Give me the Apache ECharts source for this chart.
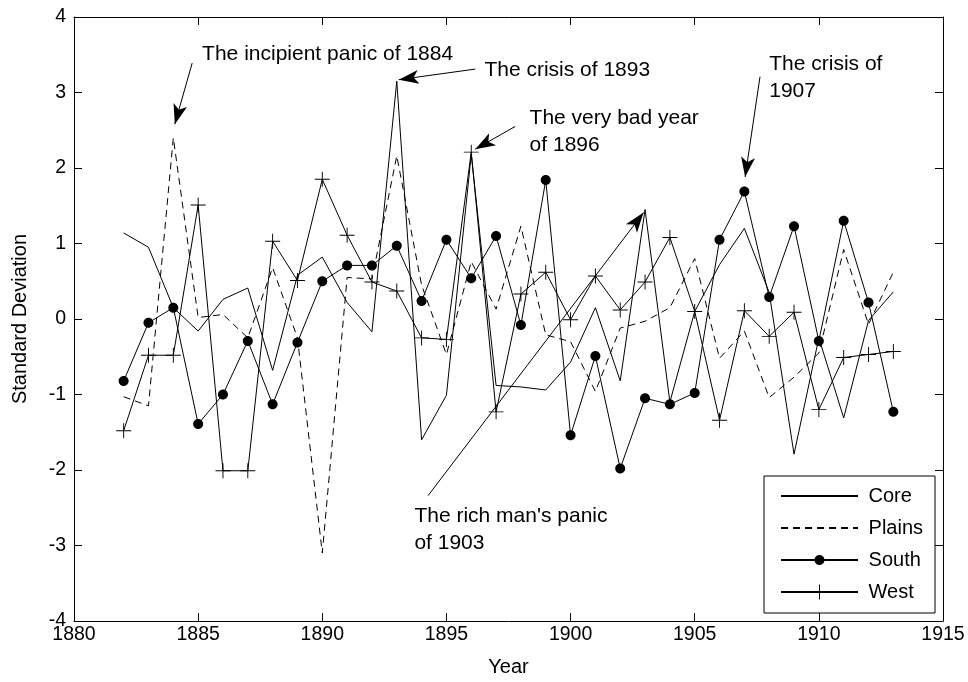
<!DOCTYPE html>
<html>
<head>
<meta charset="utf-8">
<title>Regional standard deviations, 1882-1913</title>
<script src="https://cdn.jsdelivr.net/npm/echarts@6/dist/echarts.min.js"></script>
<style>
  html, body { margin: 0; padding: 0; background: #ffffff; }
  #chart { width: 968px; height: 682px; }
</style>
</head>
<body>
<div id="chart"></div>
<script>
// ---- data -------------------------------------------------------------
const years = [1882, 1883, 1884, 1885, 1886, 1887, 1888, 1889, 1890, 1891,
               1892, 1893, 1894, 1895, 1896, 1897, 1898, 1899, 1900, 1901,
               1902, 1903, 1904, 1905, 1906, 1907, 1908, 1909, 1910, 1911,
               1912, 1913];

const core = [1.14, 0.95, 0.15, -0.16, 0.26, 0.41, -0.68, 0.58, 0.82, 0.22,
              -0.17, 3.15, -1.60, -1.01, 2.18, -0.88, -0.90, -0.94, -0.57, 0.15,
              -0.82, 1.45, -1.10, 0.10, 0.72, 1.20, 0.35, -1.79, -0.25, -1.31,
              -0.02, 0.36];

const plains = [-1.03, -1.15, 2.40, 0.02, 0.06, -0.25, 0.68, -0.25, -3.10, 0.55,
                0.53, 2.16, 0.45, -0.47, 0.76, 0.13, 1.23, -0.21, -0.30, -0.96,
                -0.12, -0.03, 0.15, 0.80, -0.52, -0.16, -1.04, -0.77, -0.45, 0.92,
                -0.07, 0.62];

const south = [-0.82, -0.05, 0.15, -1.39, -1.00, -0.29, -1.13, -0.31, 0.50, 0.71,
               0.71, 0.97, 0.24, 1.05, 0.54, 1.10, -0.08, 1.84, -1.54, -0.49,
               -1.98, -1.05, -1.13, -0.98, 1.05, 1.69, 0.29, 1.23, -0.29, 1.30,
               0.22, -1.23];

const west = [-1.48, -0.48, -0.48, 1.51, -2.01, -2.01, 1.03, 0.51, 1.85, 1.11,
              0.49, 0.37, -0.25, -0.27, 2.21, -1.23, 0.33, 0.62, -0.01, 0.57,
              0.12, 0.49, 1.08, 0.10, -1.34, 0.11, -0.23, 0.09, -1.20, -0.51,
              -0.47, -0.43];

const seriesNames = ['Core', 'Plains', 'South', 'West'];

const xTickLabels = [1880, 1885, 1890, 1895, 1900, 1905, 1910, 1915];
const yTickLabels = [-4, -3, -2, -1, 0, 1, 2, 3, 4];

// annotation texts, the point (in data units) where each text begins,
// and the arrow from the text towards the year it names
const noteTexts = [
  'The incipient panic of 1884',
  'The crisis of 1893',
  'The very bad year\nof 1896',
  'The crisis of\n1907',
  "The rich man's panic\nof 1903"
];
const noteAnchors = [[1885.16, 3.51], [1896.53, 3.29], [1898.35, 2.48], [1908.0, 3.20], [1893.71, -2.79]];
const noteArrows = [
  [[1884.76, 3.39], [1884.06, 2.58]],
  [[1896.16, 3.31], [1893.08, 3.17]],
  [[1897.77, 2.55], [1896.16, 2.25]],
  [[1907.63, 3.21], [1907.03, 1.88]],
  [[1894.26, -2.34], [1902.94, 1.41]]
];

// ---- styling ----------------------------------------------------------
const FONT = '"Liberation Sans", Arial, Helvetica, sans-serif';
const INK = '#000000';

// thin "+" marker, 16x16 box
const PLUS = 'path://M0,7.5L16,7.5L16,8.5L0,8.5ZM7.5,0L8.5,0L8.5,16L7.5,16Z';
// filled dot of diameter 10 inside a 15x15 box (corner points pad the box)
const DOT = 'path://M0,0ZM15,15ZM2.5,7.5C2.5,4.74 4.74,2.5 7.5,2.5C10.26,2.5 12.5,4.74 12.5,7.5' +
            'C12.5,10.26 10.26,12.5 7.5,12.5C4.74,12.5 2.5,10.26 2.5,7.5Z';
// marker that draws nothing (keeps the legend icon a bare line)
const NO_MARK = 'path://M0,0ZM10,10Z';

const pairs = vals => years.map((y, i) => [y, vals[i]]);

const baseLine = { color: INK, width: 1 };

const xMin = xTickLabels[0], xMax = xTickLabels[xTickLabels.length - 1];
const yMin = yTickLabels[0], yMax = yTickLabels[yTickLabels.length - 1];
const xStep = xTickLabels[1] - xTickLabels[0];
const yStep = yTickLabels[1] - yTickLabels[0];

function valueAxis(extra) {
  return Object.assign({
    type: 'value',
    splitLine: { show: false },
    axisLine: { show: true, onZero: false, lineStyle: { color: INK, width: 1 } },
    axisTick: { show: true, inside: true, length: 8, lineStyle: { color: INK, width: 1 } },
    axisLabel: { show: false }
  }, extra);
}

const chart = echarts.init(document.getElementById('chart'), null, { renderer: 'canvas' });

chart.setOption({
  animation: false,
  backgroundColor: '#ffffff',
  textStyle: { fontFamily: FONT, color: INK },
  grid: { left: 74, right: 25, top: 17, bottom: 57, containLabel: false },
  xAxis: [
    valueAxis({
      position: 'bottom', min: xMin, max: xMax, interval: xStep,
      axisLabel: {
        show: true, color: INK, fontSize: 19.5, fontFamily: FONT, margin: 4,
        showMinLabel: true, showMaxLabel: true, hideOverlap: false,
        formatter: v => String(v)
      },
      name: 'Year', nameLocation: 'middle', nameGap: 36,
      nameTextStyle: { color: INK, fontSize: 20, fontFamily: FONT }
    }),
    valueAxis({ position: 'top', min: xMin, max: xMax, interval: xStep })
  ],
  yAxis: [
    valueAxis({
      position: 'left', min: yMin, max: yMax, interval: yStep,
      axisLabel: {
        show: true, color: INK, fontSize: 19.5, fontFamily: FONT, margin: 8,
        showMinLabel: true, showMaxLabel: true, hideOverlap: false,
        formatter: v => String(v)
      },
      name: 'Standard Deviation', nameLocation: 'middle', nameGap: 44, nameRotate: 90,
      nameTextStyle: { color: INK, fontSize: 20, fontFamily: FONT }
    }),
    valueAxis({ position: 'right', min: yMin, max: yMax, interval: yStep })
  ],
  legend: {
    show: true,
    orient: 'vertical',
    left: 764, top: 476,
    padding: [10, 12, 11, 16],
    itemWidth: 77, itemHeight: 18.75, itemGap: 12,
    backgroundColor: '#ffffff', borderColor: INK, borderWidth: 1,
    textStyle: { color: INK, fontSize: 20, fontFamily: FONT },
    formatter: name => ' ' + name,
    data: seriesNames
  },
  series: [
    {
      name: seriesNames[0], type: 'line', data: pairs(core),
      symbol: NO_MARK, showSymbol: false,
      lineStyle: baseLine, itemStyle: { color: INK },
      z: 3,
      markLine: {
        silent: true, animation: false,
        symbol: ['none', 'arrow'], symbolSize: [10.5, 20],
        label: { show: false },
        lineStyle: { color: INK, width: 1, type: 'solid' },
        emphasis: { disabled: true },
        data: noteArrows.map(a => [{ coord: a[0] }, { coord: a[1] }])
      },
      markPoint: {
        silent: true, animation: false,
        symbol: 'circle', symbolSize: 0,
        itemStyle: { color: 'transparent' },
        label: {
          show: true, position: 'right', distance: 0, formatter: '{b}',
          color: INK, fontSize: 21, fontFamily: FONT, lineHeight: 27, align: 'left'
        },
        data: noteTexts.map((t, i) => ({ name: t, coord: noteAnchors[i] }))
      }
    },
    {
      name: seriesNames[1], type: 'line', data: pairs(plains),
      symbol: NO_MARK, showSymbol: false,
      lineStyle: { color: INK, width: 1, type: [7, 5] }, itemStyle: { color: INK },
      z: 2
    },
    {
      name: seriesNames[2], type: 'line', data: pairs(south),
      symbol: DOT, symbolSize: 15, showSymbol: true,
      lineStyle: baseLine, itemStyle: { color: INK },
      z: 4
    },
    {
      name: seriesNames[3], type: 'line', data: pairs(west),
      symbol: PLUS, symbolSize: 15, showSymbol: true,
      lineStyle: baseLine, itemStyle: { color: INK },
      z: 4
    }
  ]
});
</script>
</body>
</html>
